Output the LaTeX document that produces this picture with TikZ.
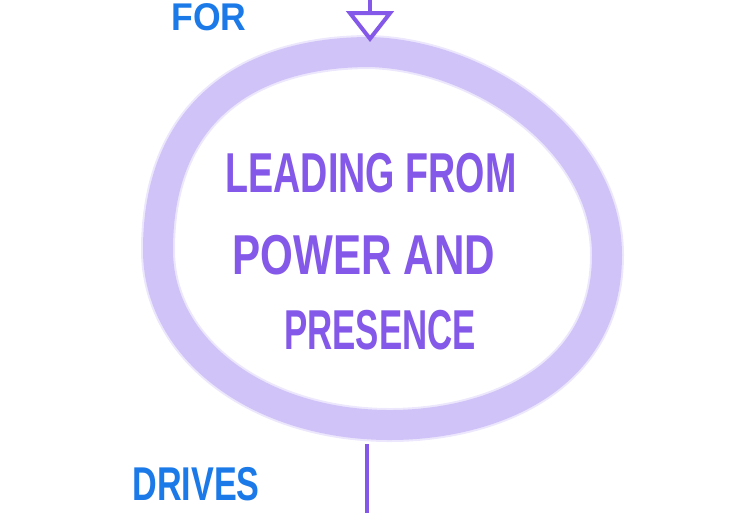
\documentclass[tikz,border=0pt]{standalone}
\usepackage{fontspec}
\setmainfont{Liberation Sans}
\usetikzlibrary{arrows.meta}

\definecolor{ringlila}{RGB}{208,195,248}
\definecolor{inkpurple}{RGB}{132,88,232}
\definecolor{inkblue}{RGB}{28,122,232}

\begin{document}
\begin{tikzpicture}[x=0.02cm,y=-0.02cm,
    mainword/.style={inkpurple, transform shape,
      font=\bfseries\fontsize{32}{38}\selectfont},
    blueword/.style={inkblue, transform shape,
      font=\bfseries\fontsize{22}{26}\selectfont},
    stem/.style={inkpurple, line width=0.075cm}]
  % Frame: one unit is one pixel of the sketch
  \useasboundingbox (0,0) rectangle (746,512);

  % Soft lilac ring
  \def\ringpath{(370,52) .. controls (480,55) and (607,140) .. (607,255)
      .. controls (607,380) and (490,425) .. (390,425)
      .. controls (260,425) and (158,350) .. (158,250)
      .. controls (158,110) and (250,52) .. cycle}
  \draw[ringlila!40, line width=0.68cm] \ringpath;
  \draw[ringlila, line width=0.6cm] \ringpath;

  % Text inside the ring
  \node[mainword, xscale=0.67] (lead)     at (371,173) {LEADING FROM};
  \node[mainword, xscale=0.75] (power)    at (364,255) {POWER AND};
  \node[mainword, xscale=0.62] (presence) at (380,330) {PRESENCE};

  % Labels on the connectors
  \node[blueword, xscale=0.92] (for) at (209,17) {FOR};
  \node[blueword, xscale=0.72, font=\bfseries\fontsize{27}{30}\selectfont]
    (drives) at (196,484) {DRIVES};

  % Incoming arrow at the top, open tip on the ring
  \coordinate (intop) at (370,-2);
  \coordinate (inend) at (370,42);
  \draw[stem, -{Triangle[open, length=0.62cm, width=0.95cm, line width=0.08cm]}]
    (intop) -- (inend);

  % Outgoing line at the bottom
  \coordinate (outtop) at (367,444);
  \coordinate (outend) at (367,514);
  \draw[stem] (outtop) -- (outend);
\end{tikzpicture}
\end{document}
